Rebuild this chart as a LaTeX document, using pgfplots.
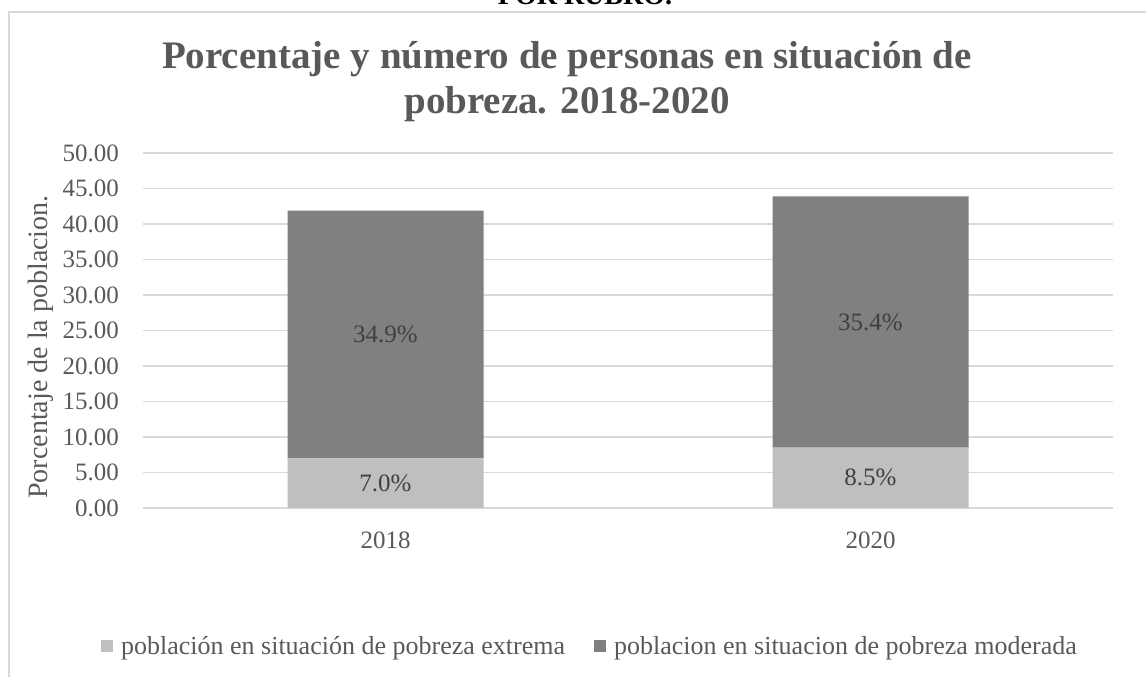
\documentclass[border=0pt]{standalone}
\usepackage{pgfplots}
\pgfplotsset{compat=1.18}
\usepackage{fontspec}
\setmainfont{Liberation Serif}
\definecolor{txt}{HTML}{595959}
\definecolor{lbl}{HTML}{404040}
\definecolor{gridc}{HTML}{D9D9D9}
\definecolor{lightbar}{HTML}{BFBFBF}
\definecolor{darkbar}{HTML}{808080}

\pgfplotstableread{
x extrema moderada
0 7.0 34.9
1 8.5 35.4
}\datatable

\pgfplotstableread{
x y lab
0 3.5 7.0\%
1 4.25 8.5\%
0 24.45 34.9\%
1 26.2 35.4\%
}\labtable

\begin{document}
\begin{tikzpicture}[x=1pt,y=1pt]
\useasboundingbox (0,0) rectangle (1146,677);
\draw[gridc, line width=1.3pt] (9,0) -- (9,665) -- (1146,665);
\node[anchor=base, font=\fontsize{28}{32}\selectfont\bfseries, text=black] at (585,672) {POR RUBRO.};
\node[anchor=base, font=\fontsize{39}{46}\selectfont\bfseries, text=txt] at (567,608) {Porcentaje y número de personas en situación de};
\node[anchor=base, font=\fontsize{39}{46}\selectfont\bfseries, text=txt] at (567,563) {pobreza. 2018-2020};
\node[rotate=90, font=\fontsize{28}{32}\selectfont, text=txt] at (41,330) {Porcentaje de la poblacion.};

\begin{axis}[
  at={(143pt,169pt)}, anchor=south west,
  width=970pt, height=355pt, scale only axis,
  xmin=-0.5, xmax=1.5, ymin=0, ymax=50,
  ybar stacked, bar width=196pt,
  ytick={0,5,10,15,20,25,30,35,40,45,50},
  xtick={0,1}, xticklabels={2018,2020},
  /pgf/number format/assume math mode=true,
  yticklabel style={/pgf/number format/fixed, /pgf/number format/fixed zerofill, /pgf/number format/precision=2, anchor=east, xshift=-24pt},
  tick label style={font=\fontsize{25}{30}\selectfont, text=txt, inner sep=0pt},
  xticklabel style={anchor=north, yshift=-24pt},
  axis line style={draw=none},
  major tick length=0pt,
  ymajorgrids, major grid style={gridc, line width=1.3pt},
  legend columns=2,
  legend style={at={(0.4608,-0.39)}, anchor=center, draw=none, fill=none,
    font=\fontsize{26}{30}\selectfont, text=txt,
    /tikz/every odd column/.append style={column sep=6pt},
    /tikz/every even column/.append style={column sep=27pt}},
  legend image code/.code={\fill[#1] (0pt,-6pt) rectangle (12pt,6pt);},
]
\addplot[fill=lightbar, draw=none] table[x=x, y=extrema] {\datatable};
\addlegendentry{población en situación de pobreza extrema}
\addplot[fill=darkbar, draw=none] table[x=x, y=moderada] {\datatable};
\addlegendentry{poblacion en situacion de pobreza moderada}
\end{axis}

\begin{axis}[
  at={(143pt,169pt)}, anchor=south west,
  width=970pt, height=355pt, scale only axis,
  xmin=-0.5, xmax=1.5, ymin=0, ymax=50,
  hide axis,
]
\addplot[draw=none, mark=none, nodes near coords, point meta=explicit symbolic,
  nodes near coords style={anchor=center, font=\fontsize{25}{30}\selectfont, text=lbl}]
  table[x=x, y=y, meta=lab] {\labtable};
\end{axis}
\end{tikzpicture}
\end{document}
